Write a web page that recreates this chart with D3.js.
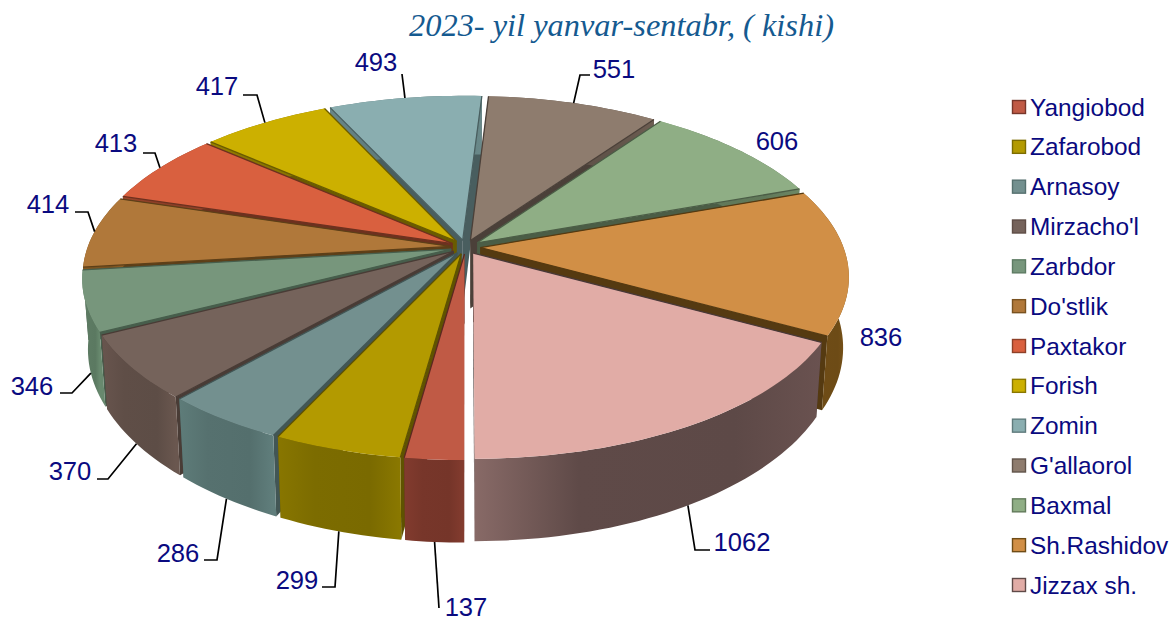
<!DOCTYPE html>
<html><head><meta charset="utf-8">
<script src="https://cdn.jsdelivr.net/npm/d3@7"></script>
<style>html,body{margin:0;padding:0;background:#fff}svg{display:block}</style>
</head><body><svg id="c" width="1170" height="618"></svg>
<script>
const categories=["Yangiobod","Zafarobod","Arnasoy","Mirzacho'l","Zarbdor","Do'stlik","Paxtakor","Forish","Zomin","G'allaorol","Baxmal","Sh.Rashidov","Jizzax sh."];
const values=[137,299,286,370,346,414,413,417,493,551,606,836,1062];
const topColors=["#c05a45","#b39a00","#73908f","#75635b","#77967c","#b0783a","#d9603f","#ccb000","#8aaeb0","#8e7c6e","#8fae85","#d18f46","#e1aca6"];
const sideColors=["#77362a","#7c6c00","#56716f","#5f4e47","#5d7b63","#7a5220","#8f4028","#8a7700","#5f7b7c","#62544a","#627a5b","#6f4c16","#5f4a48"];
const title="2023- yil yanvar-sentabr, ( kishi)";
// label text anchor points and leader elbows (page layout, not data)
const labelPos=[[466,607],[297,580],[178,553],[70,471],[32,386],[48,204],[116,143],[217,86],[376,62],[614,69],[777,141],[881,337],[742,542]];
const elbows=[[439,608],[335,587,322,587],[217,560,204,560],[108,479,97,479],[72,393,60,393],[88,212,75,212],[155,153,143,153],[257,95,243,95],[402,74],[580,75,590,75],null,null,[695,550,710,550]];
const leaderLevel=[1,1,1,1,1,0,0,0,0,0,0,0,1];

const svg=d3.select("#c");
const cx=465.5,cy=247,R=363,K=170,P=0.163,H=68.5,BS=0.985,EXPL=0.041;
const sx=d3.scaleLinear().domain([0,1]).range([cx,cx+R]);
const sy=d3.scaleLinear().domain([0,1]).range([cy,cy+K]);
function proj(x,y,low){
  const s=1/(1-P*y);
  return [sx(x*s*(low?BS:1)), sy(y*s)+(low?H*s:0)];
}
const pie=d3.pie().sort(null).value(d=>d).startAngle(Math.PI).endAngle(3*Math.PI);
const arcs=pie(values).map((a,i)=>{
  const mid=(a.startAngle+a.endAngle)/2;
  return {i,a0:a.startAngle,a1:a.endAngle,mid,ox:EXPL*Math.sin(mid),oy:-EXPL*Math.cos(mid)};
});
const pt=(d,ang,r)=>[d.ox+r*Math.sin(ang),d.oy-r*Math.cos(ang)];
const line=d3.line();
const defs=svg.append("defs");
const arcPts=d=>{
  const n=Math.max(8,Math.ceil((d.a1-d.a0)*40));
  return d3.range(n+1).map(j=>d.a0+(d.a1-d.a0)*j/n);
};
const g=svg.append("g");
const order=arcs.slice().sort((a,b)=>a.oy-b.oy);
order.forEach(d=>{
  const ring=arcPts(d);
  const c=[d.ox,d.oy];
  const side=sideColors[d.i];
  const wall=ang=>{
    const e=pt(d,ang,1);
    return [proj(c[0],c[1],0),proj(e[0],e[1],0),proj(e[0],e[1],1),proj(c[0],c[1],1)];
  };
  const wallCol=d3.rgb(side).darker(0.75);
  g.append("path").attr("d",line(wall(d.a0))+"Z").attr("fill",wallCol);
  g.append("path").attr("d",line(wall(d.a1))+"Z").attr("fill",wallCol);
  const up=ring.map(a=>{const p=pt(d,a,1);return proj(p[0],p[1],0)});
  const dn=ring.map(a=>{const p=pt(d,a,1);return proj(p[0],p[1],1)}).reverse();
  const xs=up.map(p=>p[0]);
  const id="grad"+d.i;
  const gr=defs.append("linearGradient").attr("id",id).attr("gradientUnits","userSpaceOnUse")
    .attr("x1",d3.min(xs)).attr("x2",d3.max(xs)).attr("y1",0).attr("y2",0);
  const lowerRight=d.mid>2*Math.PI;
  [[0,d3.rgb(side).brighter(lowerRight?1.0:0.25)],[0.3,d3.rgb(side)],[0.75,d3.rgb(side).darker(0.05)],[1,d3.rgb(side).brighter(0.3)]]
    .forEach(s=>gr.append("stop").attr("offset",s[0]).attr("stop-color",s[1]));
  g.append("path").attr("d",line(up.concat(dn))+"Z").attr("fill",`url(#${id})`);
  g.append("path").attr("d",line([proj(c[0],c[1],0)].concat(up))+"Z").attr("fill",topColors[d.i]);
  // darker rim along the radial edges that face a neighbouring slice
  [[d.a0,d.i>0],[d.a1,d.i<values.length-1]].forEach(([ang,show])=>{
    if(!show)return;
    const e=pt(d,ang,1);
    g.append("path").attr("d",line([proj(c[0],c[1],0),proj(e[0],e[1],0)]))
      .attr("fill","none").attr("stroke",wallCol).attr("stroke-width",1.3);
  });
});
// leaders
const gl=svg.append("g");
arcs.forEach(d=>{
  const el=elbows[d.i];
  if(el){
    const p=pt(d,d.mid,1);
    const start=proj(p[0],p[1],leaderLevel[d.i]);
    const pts=[start];
    for(let j=0;j<el.length;j+=2)pts.push([el[j],el[j+1]]);
    gl.append("path").attr("d",line(pts)).attr("fill","none").attr("stroke","#000").attr("stroke-width",1.7);
  }
  gl.append("text").attr("x",labelPos[d.i][0]).attr("y",labelPos[d.i][1]+9)
    .attr("text-anchor","middle").attr("font-family","Liberation Sans").attr("font-size",25.6)
    .attr("fill","#0a0a80").text(values[d.i]);
});
// title
svg.append("text").attr("x",621.5).attr("y",36).attr("text-anchor","middle")
  .attr("font-family","Liberation Serif").attr("font-style","italic").attr("font-size",32.4)
  .attr("fill","#155a90").text(title);
// legend
const ly=d3.scalePoint().domain(categories).range([107,585]);
const leg=svg.append("g").selectAll("g").data(categories).join("g").attr("transform",d=>`translate(0,${ly(d)})`);
leg.append("rect").attr("x",1012.5).attr("y",-6.5).attr("width",13).attr("height",13)
  .attr("fill",(d,i)=>topColors[i]).attr("stroke",(d,i)=>sideColors[i]).attr("stroke-width",1.4);
leg.append("text").attr("x",1030).attr("y",8.5).attr("font-family","Liberation Sans").attr("font-size",24.4)
  .attr("fill","#0a0a80").text(d=>d);
</script></body></html>
